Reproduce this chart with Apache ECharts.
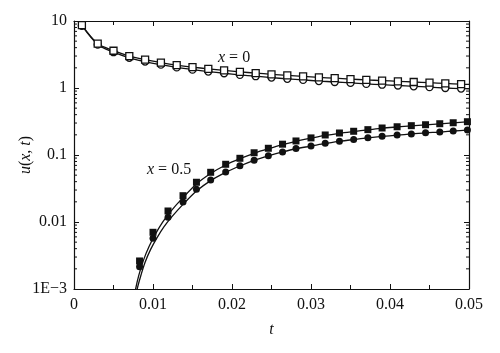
<!DOCTYPE html>
<html><head><meta charset="utf-8">
<script src="https://cdn.jsdelivr.net/npm/echarts@6/dist/echarts.min.js"></script>
<style>html,body{margin:0;padding:0;background:#fff}#c{width:500px;height:353px}</style>
</head><body><div id="c"></div>
<script>
// ---- data ----
var xTickLabels = ['0', '0.01', '0.02', '0.03', '0.04', '0.05'];
var yTickLabels = ['1E\u22123', '0.01', '0.1', '1', '10'];

// x = 0 markers
var tX0 = [0.001,0.003,0.005,0.007,0.009,0.011,0.013,0.015,0.017,0.019,0.021,0.023,0.025,0.027,0.029,0.031,0.033,0.035,0.037,0.039,0.041,0.043,0.045,0.047,0.049];
var x0Squares = [8.7,4.6,3.6,3.0,2.65,2.4,2.2,2.05,1.93,1.83,1.74,1.67,1.60,1.54,1.49,1.44,1.40,1.36,1.32,1.29,1.26,1.23,1.20,1.17,1.14];
var x0Circles = [8.5,4.45,3.42,2.82,2.48,2.23,2.03,1.88,1.76,1.66,1.57,1.50,1.43,1.37,1.32,1.27,1.23,1.19,1.15,1.12,1.09,1.06,1.03,1.00,0.98];
// x = 0 curves
var tX0Line = [0.001,0.003,0.005,0.007,0.009,0.011,0.013,0.015,0.017,0.019,0.021,0.023,0.025,0.027,0.029,0.031,0.033,0.035,0.037,0.039,0.041,0.043,0.045,0.047,0.049,0.050];
var x0LineUpper = [8.7,4.6,3.6,3.0,2.65,2.4,2.2,2.05,1.93,1.83,1.74,1.67,1.60,1.54,1.49,1.44,1.40,1.36,1.32,1.29,1.26,1.23,1.20,1.17,1.14,1.13];
var x0LineLower = [8.5,4.45,3.42,2.82,2.48,2.23,2.03,1.88,1.76,1.66,1.57,1.50,1.43,1.37,1.32,1.27,1.23,1.19,1.15,1.12,1.09,1.06,1.03,1.00,0.98,0.97];

// x = 0.5 markers
var tX05 = [0.0083,0.0100,0.0119,0.0138,0.0155,0.0173,0.0192,0.0210,0.0228,0.0246,0.0264,0.0281,0.0300,0.0318,0.0336,0.0354,0.0372,0.0390,0.0409,0.0427,0.0445,0.0463,0.0480,0.0498];
var x05Squares = [0.00262,0.00702,0.0146,0.0247,0.0392,0.0552,0.0727,0.0893,0.108,0.126,0.145,0.162,0.180,0.199,0.213,0.226,0.239,0.253,0.264,0.274,0.283,0.293,0.303,0.314];
var x05Circles = [0.00215,0.00571,0.01175,0.0199,0.0308,0.0424,0.0557,0.0692,0.0834,0.0977,0.111,0.125,0.136,0.150,0.160,0.171,0.181,0.190,0.199,0.206,0.215,0.220,0.228,0.236];
// x = 0.5 curves
var tX05LineUpper = [0.0076,0.0078,0.0082,0.0088,0.0095,0.0103,0.0112,0.0122,0.0137,0.0155,0.0173,0.0192,0.0210,0.0228,0.0246,0.0264,0.0281,0.0300,0.0318,0.0336,0.0354,0.0372,0.0390,0.0409,0.0427,0.0445,0.0463,0.0480,0.0500];
var x05LineUpper = [0.0007,0.001,0.0016,0.0027,0.0043,0.0066,0.0099,0.0142,0.0225,0.0370,0.0530,0.0710,0.0880,0.1060,0.1240,0.1430,0.1600,0.1780,0.1960,0.2110,0.2240,0.2370,0.2510,0.2620,0.2720,0.2820,0.2920,0.3020,0.3140];
var tX05LineLower = [0.0078,0.0080,0.0084,0.0090,0.0097,0.0105,0.0114,0.0124,0.0138,0.0155,0.0173,0.0192,0.0210,0.0228,0.0246,0.0264,0.0281,0.0300,0.0318,0.0336,0.0354,0.0372,0.0390,0.0409,0.0427,0.0445,0.0463,0.0480,0.0500];
var x05LineLower = [0.0007,0.001,0.0015,0.0025,0.0039,0.0058,0.0085,0.0120,0.0183,0.0290,0.0415,0.0550,0.0685,0.0830,0.0970,0.1110,0.1240,0.1360,0.1490,0.1600,0.1700,0.1800,0.1890,0.1980,0.2060,0.2140,0.2200,0.2280,0.2370];

// log minor ticks
var decades = [0.001, 0.01, 0.1, 1];
var minorMultipliers = [2,3,4,5,6,7,8,9];

// ---- build ----
function pairs(xs, ys){ return xs.map(function(x,i){ return [x, ys[i]]; }); }
var yMinor = [];
decades.forEach(function(d){ minorMultipliers.forEach(function(m){ yMinor.push([0, m*d]); }); });

var FONT = 'Liberation Serif';
var black = '#111';
var FS = 16;

var xAxisBase = {
  type: 'value', min: 0, max: 0.05, interval: 0.01,
  axisLine: { show: true, onZero: false, lineStyle: { color: black, width: 1.2 } },
  axisTick: { show: true, inside: true, length: 5, lineStyle: { color: black } },
  minorTick: { show: true, splitNumber: 2, length: 4, lineStyle: { color: black } },
  splitLine: { show: false }, minorSplitLine: { show: false }
};
var yAxisBase = {
  type: 'log', logBase: 10, min: 0.001, max: 10,
  axisLine: { show: true, onZero: false, lineStyle: { color: black, width: 1.2 } },
  axisTick: { show: true, inside: true, length: 5, lineStyle: { color: black } },
  splitLine: { show: false }
};

var option = {
  animation: false,
  backgroundColor: '#fff',
  grid: { left: 74, right: 31, top: 21, bottom: 64 },
  xAxis: [
    Object.assign({}, xAxisBase, {
      position: 'bottom',
      name: 't', nameLocation: 'middle', nameGap: 33, nameMoveOverlap: false,
      nameTextStyle: { fontFamily: FONT, fontStyle: 'italic', fontSize: FS, color: black },
      axisLabel: { margin: 8, fontFamily: FONT, fontSize: FS, color: black,
        formatter: function(v){ return xTickLabels[Math.round(v/0.01)]; } }
    }),
    Object.assign({}, xAxisBase, { position: 'top', axisLabel: { show: false } })
  ],
  yAxis: [
    Object.assign({}, yAxisBase, {
      position: 'left',
      name: '{i|u}({i|x}, {i|t})', nameLocation: 'middle', nameGap: 40, nameRotate: 90, nameMoveOverlap: false,
      nameTextStyle: { fontFamily: FONT, fontSize: FS, color: black,
        rich: { i: { fontFamily: FONT, fontStyle: 'italic', fontSize: FS, color: black } } },
      axisLabel: { margin: 7, fontFamily: FONT, fontSize: FS, color: black,
        formatter: function(v){ return yTickLabels[Math.round(Math.log10(v)) + 3]; } }
    }),
    Object.assign({}, yAxisBase, { position: 'right', axisLabel: { show: false } })
  ],
  graphic: [
    { type: 'text', left: 218, top: 50, style: { text: '{i|x} = 0', fontFamily: FONT, fontSize: FS, fill: black,
      rich: { i: { fontFamily: FONT, fontStyle: 'italic', fontSize: FS } } } },
    { type: 'text', left: 147, top: 162, style: { text: '{i|x} = 0.5', fontFamily: FONT, fontSize: FS, fill: black,
      rich: { i: { fontFamily: FONT, fontStyle: 'italic', fontSize: FS } } } }
  ],
  series: [
    { type: 'custom', silent: true, xAxisIndex: 0, yAxisIndex: 0, data: yMinor, z: 1, clip: false,
      renderItem: function(params, api){
        var l = api.coord([0, api.value(1)]);
        var r = api.coord([0.05, api.value(1)]);
        var st = { stroke: black, lineWidth: 1 };
        return { type: 'group', children: [
          { type: 'line', shape: { x1: l[0], y1: l[1], x2: l[0] + 3, y2: l[1] }, style: st },
          { type: 'line', shape: { x1: r[0] - 3, y1: r[1], x2: r[0], y2: r[1] }, style: st }
        ]};
      } },
    { type: 'line', data: pairs(tX0Line, x0LineUpper), smooth: 0.3, showSymbol: false, lineStyle: { color: black, width: 1.3 }, z: 2 },
    { type: 'line', data: pairs(tX0Line, x0LineLower), smooth: 0.3, showSymbol: false, lineStyle: { color: black, width: 1.3 }, z: 2 },
    { type: 'line', data: pairs(tX05LineUpper, x05LineUpper), smooth: 0.3, showSymbol: false, lineStyle: { color: black, width: 1.3 }, z: 2 },
    { type: 'line', data: pairs(tX05LineLower, x05LineLower), smooth: 0.3, showSymbol: false, lineStyle: { color: black, width: 1.3 }, z: 2 },
    { type: 'scatter', data: pairs(tX0, x0Circles), symbol: 'circle', symbolSize: 7,
      itemStyle: { color: '#fff', borderColor: black, borderWidth: 1.3, opacity: 1 }, z: 3 },
    { type: 'scatter', data: pairs(tX0, x0Squares), symbol: 'rect', symbolSize: 7,
      itemStyle: { color: '#fff', borderColor: black, borderWidth: 1.3, opacity: 1 }, z: 4 },
    { type: 'scatter', data: pairs(tX05, x05Circles), symbol: 'circle', symbolSize: 7,
      itemStyle: { color: black, opacity: 1 }, z: 3 },
    { type: 'scatter', data: pairs(tX05, x05Squares), symbol: 'rect', symbolSize: 7,
      itemStyle: { color: black, opacity: 1 }, z: 4 }
  ]
};
echarts.init(document.getElementById('c'), null, { renderer: 'canvas' }).setOption(option);
</script></body></html>
